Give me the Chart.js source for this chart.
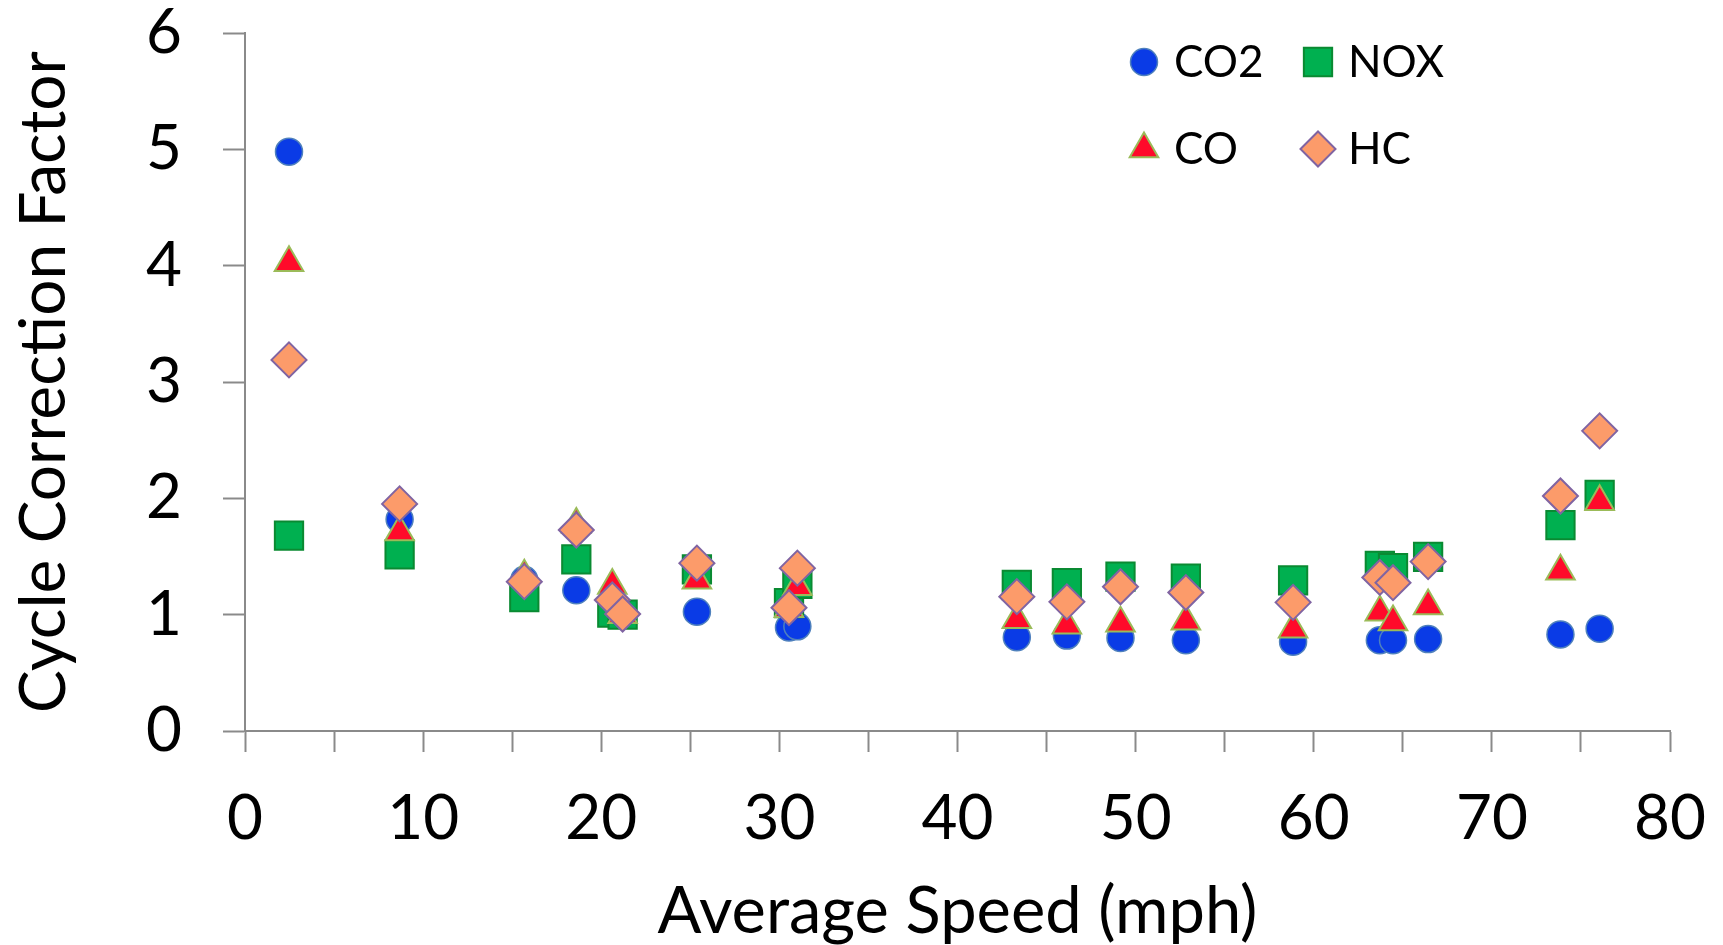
<!DOCTYPE html>
<html>
<head>
<meta charset="utf-8">
<title>Cycle Correction Factor vs Average Speed</title>
<script src="https://cdn.jsdelivr.net/npm/chart.js@4.4.1/dist/chart.umd.min.js"></script>
<style>
    html, body { margin: 0; padding: 0; background: #ffffff; }
    #wrap { width: 1723px; height: 945px; }
</style>
</head>
<body>
<div id="wrap"><canvas id="cycleChart" width="1723" height="945"></canvas></div>
<script>
// Average speed of each driving cycle (mph)
const speed = [2.47, 8.68, 15.68, 18.6, 20.62, 21.2, 25.37, 30.54, 31.01, 43.33, 46.14, 49.15, 52.82, 58.84, 63.71, 64.45, 66.42, 73.85, 76.05];

// Cycle correction factors per pollutant
const co2 = [4.98, 1.82, 1.30, 1.21, 1.02, 1.00, 1.025, 0.89, 0.90, 0.806, 0.82, 0.80, 0.78, 0.768, 0.78, 0.78, 0.79, 0.83, 0.88];
const nox = [1.68, 1.518, 1.15, 1.475, 1.017, 1.00, 1.39, 1.10, 1.264, 1.255, 1.27, 1.327, 1.31, 1.295, 1.42, 1.40, 1.496, 1.77, 2.03];
const co  = [4.025, 1.711, 1.33, 1.776, 1.25, 1.00, 1.295, 1.05, 1.24, 0.957, 0.91, 0.926, 0.943, 0.874, 1.02, 0.937, 1.075, 1.373, 1.97];
const hc  = [3.19, 1.952, 1.284, 1.728, 1.126, 1.006, 1.443, 1.06, 1.40, 1.155, 1.11, 1.24, 1.19, 1.106, 1.32, 1.275, 1.456, 2.02, 2.58];

const seriesNames = ['CO2', 'NOX', 'CO', 'HC'];
const xTicks = [0, 10, 20, 30, 40, 50, 60, 70, 80];
const yTicks = [0, 1, 2, 3, 4, 5, 6];

const FONT = 'Lato, "Open Sans", "Liberation Sans", sans-serif';
const AXIS_GREY = '#8a8a8a';

function toPoints(values) {
    return speed.map((s, i) => ({ x: s, y: values[i] }));
}

// Legend in two columns inside the top-right corner of the plot
const cornerLegend = {
    id: 'cornerLegend',
    afterDatasetsDraw(chart) {
        const ctx = chart.ctx;
        const area = chart.chartArea;
        const left = area.right - 526;
        const top = area.top + 29;
        ctx.save();
        chart.data.datasets.forEach((ds, i) => {
            const col = i % 2;
            const row = Math.floor(i / 2);
            const x = left + col * 174;
            const y = top + row * 87;
            ctx.fillStyle = ds.backgroundColor;
            ctx.strokeStyle = ds.borderColor;
            ctx.lineWidth = ds.borderWidth;
            Chart.helpers.drawPoint(ctx, {
                pointStyle: ds.pointStyle,
                radius: ds.pointRadius,
                borderWidth: ds.borderWidth,
                rotation: 0
            }, x, y);
            ctx.fillStyle = '#000000';
            ctx.font = '44px ' + FONT;
            ctx.textAlign = 'left';
            ctx.textBaseline = 'middle';
            ctx.fillText(ds.label, x + 30, y + 1);
        });
        ctx.restore();
    }
};

const ctx = document.getElementById('cycleChart').getContext('2d');

new Chart(ctx, {
    type: 'scatter',
    data: {
        datasets: [
            {
                label: seriesNames[0],
                data: toPoints(co2),
                pointStyle: 'circle',
                pointRadius: 13.5,
                backgroundColor: '#0a3be6',
                borderColor: '#4f81bd',
                borderWidth: 1.5,
                order: 4
            },
            {
                label: seriesNames[1],
                data: toPoints(nox),
                pointStyle: 'rect',
                pointRadius: 20,
                backgroundColor: '#00b050',
                borderColor: '#0a8a32',
                borderWidth: 2,
                order: 3
            },
            {
                label: seriesNames[2],
                data: toPoints(co),
                pointStyle: 'triangle',
                pointRadius: 16.5,
                backgroundColor: '#ff0a2a',
                borderColor: '#9bbb59',
                borderWidth: 2,
                order: 2
            },
            {
                label: seriesNames[3],
                data: toPoints(hc),
                pointStyle: 'rectRot',
                pointRadius: 17.5,
                backgroundColor: '#fc9b6a',
                borderColor: '#8064a2',
                borderWidth: 2,
                order: 1
            }
        ]
    },
    options: {
        responsive: false,
        animation: false,
        events: [],
        layout: {
            padding: { top: 33, right: 53, bottom: 0, left: 0 }
        },
        plugins: {
            legend: { display: false },
            tooltip: { enabled: false },
            title: { display: false }
        },
        scales: {
            x: {
                type: 'linear',
                min: 0,
                max: 80,
                afterFit: (scale) => {
                    scale.height = 214;
                    scale.paddingLeft = 0;
                    scale.paddingRight = 0;
                },
                afterBuildTicks: (scale) => {
                    // major ticks every 10, minor every 5
                    const all = [];
                    xTicks.forEach((v, i) => {
                        all.push({ value: v });
                        if (i < xTicks.length - 1) all.push({ value: v + 5 });
                    });
                    scale.ticks = all;
                },
                border: { display: true, color: AXIS_GREY, width: 2 },
                grid: {
                    display: true,
                    drawOnChartArea: false,
                    drawTicks: true,
                    tickLength: 21,
                    tickColor: AXIS_GREY,
                    tickWidth: 2
                },
                ticks: {
                    autoSkip: false,
                    maxRotation: 0,
                    padding: 30,
                    color: '#000000',
                    font: { family: FONT, size: 62 },
                    callback: (v) => (xTicks.includes(v) ? String(v) : '')
                },
                title: {
                    display: true,
                    text: 'Average Speed (mph)',
                    color: '#000000',
                    font: { family: FONT, size: 65, lineHeight: 1 },
                    padding: { top: 0, bottom: 0 }
                }
            },
            y: {
                type: 'linear',
                min: 0,
                max: 6,
                afterFit: (scale) => {
                    scale.width = 245;
                    scale.paddingTop = 0;
                    scale.paddingBottom = 0;
                },
                afterBuildTicks: (scale) => {
                    scale.ticks = yTicks.map(v => ({ value: v }));
                },
                border: { display: true, color: AXIS_GREY, width: 2 },
                grid: {
                    display: true,
                    drawOnChartArea: false,
                    drawTicks: true,
                    tickLength: 22,
                    tickColor: AXIS_GREY,
                    tickWidth: 2
                },
                ticks: {
                    padding: 41,
                    color: '#000000',
                    font: { family: FONT, size: 62, lineHeight: 1 }
                },
                title: {
                    display: true,
                    text: 'Cycle Correction Factor',
                    color: '#000000',
                    font: { family: FONT, size: 64, lineHeight: 1 },
                    padding: { top: 12, bottom: 0 }
                }
            }
        }
    },
    plugins: [cornerLegend]
});
</script>
</body>
</html>
